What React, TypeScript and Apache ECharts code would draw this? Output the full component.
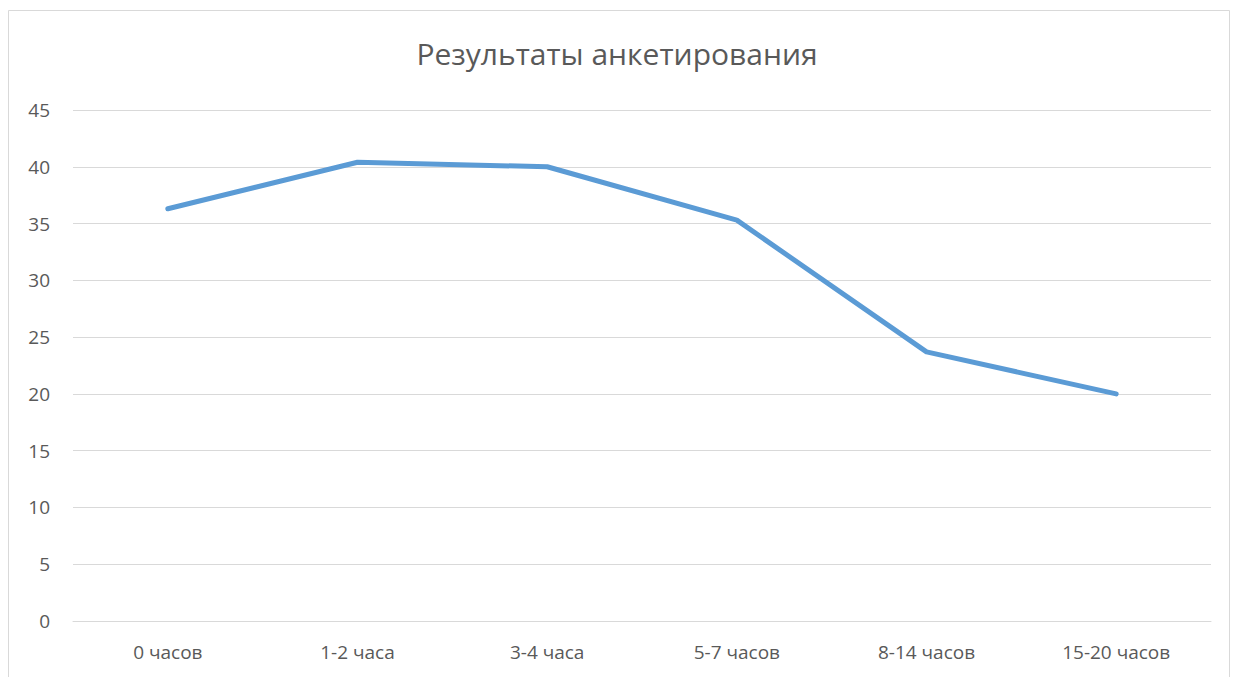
import React, { useEffect, useRef } from "react";
import * as echarts from "echarts";

const categories = ["0 часов", "1-2 часа", "3-4 часа", "5-7 часов", "8-14 часов", "15-20 часов"];
const values = [36.3, 40.4, 40, 35.3, 23.7, 20];
const yTicks = { min: 0, max: 45, interval: 5 };
const titleText = "Результаты анкетирования";

export default function App() {
  const ref = useRef<HTMLDivElement>(null);
  useEffect(() => {
    if (!ref.current) return;
    const chart = echarts.init(ref.current, undefined, { renderer: "svg" });
    const font = "'Open Sans', 'Noto Sans', sans-serif";
    chart.setOption({
      animation: false,
      backgroundColor: "#ffffff",
      textStyle: { fontFamily: font },
      title: {
        text: titleText,
        left: "center",
        top: 33,
        textStyle: { fontFamily: font, fontSize: 30, fontWeight: "normal", color: "#595959" },
      },
      graphic: [
        {
          type: "rect",
          shape: { x: 8.5, y: 10.5, width: 1221, height: 700 },
          style: { fill: "none", stroke: "#d9d9d9", lineWidth: 1 },
          silent: true,
        },
      ],
      grid: { left: 73, right: 23, top: 110, bottom: 56, containLabel: false },
      xAxis: {
        type: "category",
        data: categories,
        boundaryGap: true,
        axisLine: { show: true, lineStyle: { color: "#d9d9d9", width: 1 } },
        axisTick: { show: false },
        axisLabel: { color: "#595959", fontSize: 19, fontFamily: font, margin: 21 },
      },
      yAxis: {
        type: "value",
        min: yTicks.min,
        max: yTicks.max,
        interval: yTicks.interval,
        axisLine: { show: false },
        axisTick: { show: false },
        splitLine: { lineStyle: { color: "#d9d9d9", width: 1 } },
        axisLabel: { color: "#595959", fontSize: 19, fontFamily: font, margin: 23 },
      },
      series: [
        {
          type: "line",
          data: values,
          symbol: "none",
          lineStyle: { color: "#5b9bd5", width: 5, cap: "round", join: "round" },
        },
      ],
    });
    return () => chart.dispose();
  }, []);
  return (
    <div
      ref={ref}
      style={{ position: "absolute", left: 0, top: 0, width: 1234, height: 677 }}
    />
  );
}
